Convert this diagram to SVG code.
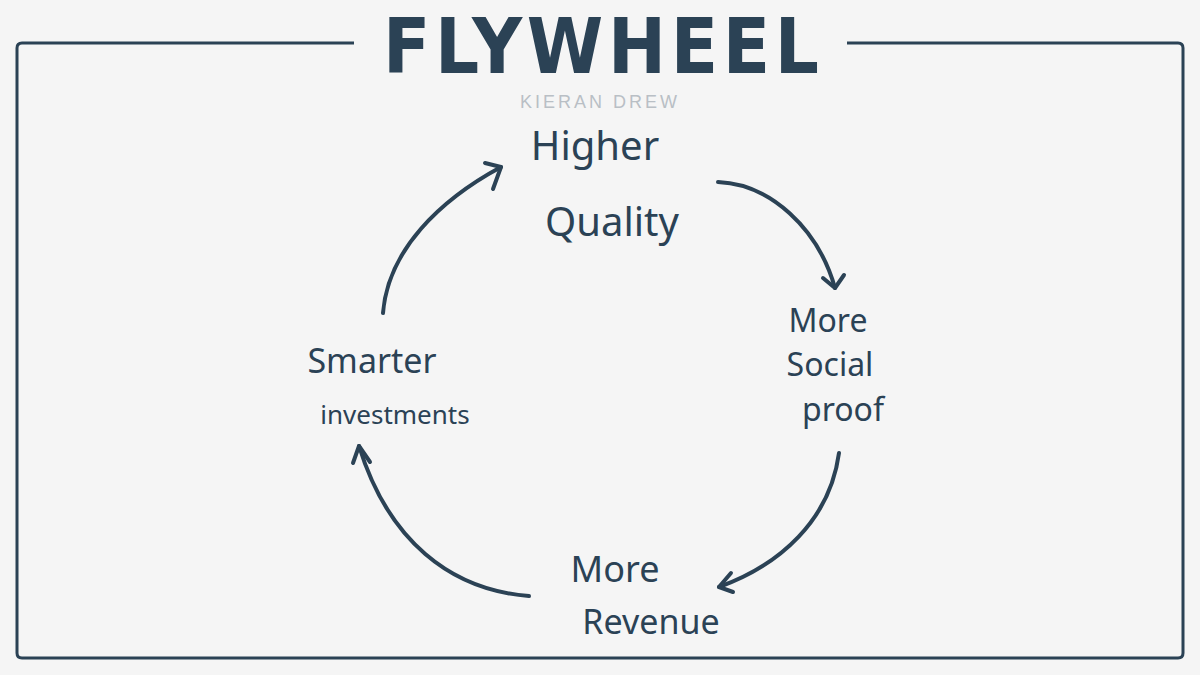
<svg xmlns="http://www.w3.org/2000/svg" width="1200" height="675" viewBox="0 0 1200 675">
  <style>
    .ink { fill: none; stroke: #2b4255; stroke-width: 4; stroke-linecap: round; stroke-linejoin: round; }
    .frame { fill: none; stroke: #2b4255; stroke-width: 3; }
    .hand { font-family: "Noto Sans", "Liberation Sans", sans-serif; fill: #2b4255; text-anchor: middle; }
  </style>
  <rect width="1200" height="675" fill="#f5f5f5"/>
  <g id="frame">
    <path class="frame" d="M354,43 H22 Q17,43 17,48 V653 Q17,658 22,658 H1178 Q1183,658 1183,653 V48 Q1183,43 1178,43 H847"/>
  </g>
  <g id="title">
    <text x="601" y="73" font-family="DejaVu Sans Condensed, DejaVu Sans, sans-serif" font-stretch="condensed" font-weight="bold" font-size="77" fill="#2b4255" text-anchor="middle" textLength="436" lengthAdjust="spacing">FLYWHEEL</text>
    <text x="600" y="108" font-family="Liberation Sans, Arial, sans-serif" font-size="18" fill="#b9bfc5" text-anchor="middle" letter-spacing="3">KIERAN DREW</text>
  </g>
  <g id="node-quality">
    <text class="hand" x="595" y="160" font-size="40">Higher</text>
    <text class="hand" x="612" y="236" font-size="40">Quality</text>
  </g>
  <g id="node-social">
    <text class="hand" x="828" y="332" font-size="32">More</text>
    <text class="hand" x="830" y="376" font-size="32">Social</text>
    <text class="hand" x="843" y="421" font-size="32">proof</text>
  </g>
  <g id="node-revenue">
    <text class="hand" x="615" y="582" font-size="36">More</text>
    <text class="hand" x="651" y="634" font-size="34">Revenue</text>
  </g>
  <g id="node-investments">
    <text class="hand" x="372" y="373" font-size="34">Smarter</text>
    <text class="hand" x="395" y="424" font-size="26">investments</text>
  </g>
  <g id="connectors">
    <path class="ink" d="M718,182 C770,184 818,228 835,288"/>
    <path class="ink" d="M823,278 L835,288 L844,275"/>
    <path class="ink" d="M839,453 C830,520 780,565 719,587"/>
    <path class="ink" d="M731,573 L719,587 L733,592"/>
    <path class="ink" d="M529,596 C450,590 388,540 359,446"/>
    <path class="ink" d="M353,463 L359,446 L370,462"/>
    <path class="ink" d="M383,313 C388,250 440,200 501,167"/>
    <path class="ink" d="M485,163 L501,167 L493,189"/>
  </g>
</svg>
